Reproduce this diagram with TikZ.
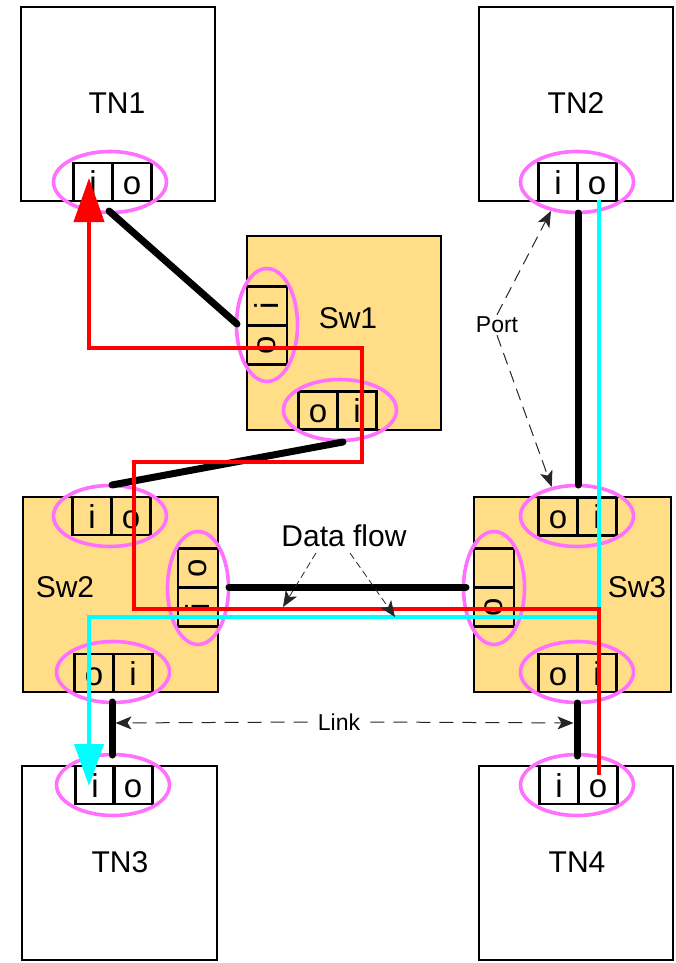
\documentclass[tikz,border=0pt]{standalone}
\usepackage{fontspec}
\setmainfont{Liberation Sans}
\usetikzlibrary{arrows.meta,shapes.geometric}
\definecolor{swfill}{HTML}{FFDE87}
\definecolor{ringc}{HTML}{FF70FF}
\definecolor{cyanc}{HTML}{00FFFF}
\definecolor{redc}{HTML}{FF0000}
\newcommand{\rotlet}[1]{\rotatebox{90}{#1}}
\begin{document}
\begin{tikzpicture}[x=1pt,y=-1pt,
  tnbox/.style={draw,line width=2.4pt,fill=white,minimum width=194pt,minimum height=194pt,inner sep=0pt,outer sep=0pt},
  swbox/.style={tnbox,fill=swfill},
  lbl/.style={font=\fontsize{30}{30}\selectfont,inner sep=0pt},
  cell/.style={draw,line width=2.4pt,minimum width=39pt,minimum height=38pt,inner sep=0pt,
    text height=24pt,text depth=0pt,font=\fontsize{33}{33}\selectfont},
  vcell/.style={draw,line width=2.4pt,minimum width=40pt,minimum height=39pt,inner sep=0pt,
    font=\fontsize{33}{33}\selectfont},
  ring/.style={draw=ringc,line width=3.6pt,ellipse,minimum width=113pt,minimum height=61pt,inner sep=0pt},
  vring/.style={draw=ringc,line width=3.6pt,ellipse,minimum width=61pt,minimum height=113pt,inner sep=0pt},
  link/.style={line width=7pt,line cap=round},
  flowred/.style={draw=redc,line width=4pt,-{Triangle[length=44pt,width=30pt]}},
  flowcyan/.style={draw=cyanc,line width=3.5pt,-{Triangle[length=42pt,width=29pt]}},
  note/.style={draw=black!85,line width=1pt,-{Stealth[length=16pt,width=13pt,inset=4pt]}},
  notelbl/.style={font=\fontsize{23}{23}\selectfont,inner sep=2pt}
]
\useasboundingbox (0,0) rectangle (675,963);

% boxes
\node[tnbox] (tn1) at (118,104) {};
\node[tnbox] (tn2) at (576,104) {};
\node[swbox] (sw1) at (344,333) {};
\node[swbox,minimum width=195pt,minimum height=195pt] (sw2) at (120.5,594.5) {};
\node[swbox,minimum width=197pt,minimum height=195pt] (sw3) at (572.5,594.5) {};
\node[tnbox,minimum width=195pt] (tn3) at (119.5,863) {};
\node[tnbox] (tn4) at (576,863) {};

% labels
\node[lbl] (tn1lbl) at (117,103) {TN1};
\node[lbl] (tn2lbl) at (576,103) {TN2};
\node[lbl] (sw1lbl) at (348,318) {Sw1};
\node[lbl] (sw2lbl) at (65,587) {Sw2};
\node[lbl] (sw3lbl) at (637,587) {Sw3};
\node[lbl] (tn3lbl) at (120,862) {TN3};
\node[lbl] (tn4lbl) at (577,862) {TN4};

% port cells
\node[cell] (tn1i) at (93,182) {i};
\node[cell] (tn1o) at (132,182) {o};
\node[cell] (tn2i) at (558,182) {i};
\node[cell] (tn2o) at (597,182) {o};
\node[vcell] (sw1li) at (267,306) {\rotlet{i}};
\node[vcell] (sw1lo) at (267,345) {\rotlet{o}};
\node[cell] (sw1bo) at (318,410.5) {o};
\node[cell] (sw1bi) at (357,410.5) {i};
\node[cell] (sw2ti) at (92,516) {i};
\node[cell] (sw2to) at (131,516) {o};
\node[vcell] (sw2ro) at (198,568) {\rotlet{o}};
\node[vcell] (sw2ri) at (198,607) {\rotlet{i}};
\node[cell] (sw2bo) at (94,673) {o};
\node[cell] (sw2bi) at (133,673) {i};
\node[cell] (sw3to) at (558,516.5) {o};
\node[cell] (sw3ti) at (597,516.5) {i};
\node[vcell] (sw3le) at (494,568) {};
\node[vcell] (sw3lo) at (494,607) {\rotlet{o}};
\node[cell] (sw3bo) at (558,673) {o};
\node[cell] (sw3bi) at (597,673) {i};
\node[cell] (tn3i) at (95,785) {i};
\node[cell] (tn3o) at (133,785) {o};
\node[cell] (tn4i) at (559,785) {i};
\node[cell] (tn4o) at (598,785) {o};

% port rings
\node[ring] (tn1ring) at (110,182) {};
\node[ring] (tn2ring) at (577,182) {};
\node[vring] (sw1lring) at (267,325) {};
\node[ring] (sw1bring) at (340,410) {};
\node[ring] (sw2tring) at (110,516) {};
\node[vring] (sw2rring) at (198,588) {};
\node[ring] (sw2bring) at (113,672) {};
\node[ring] (sw3tring) at (577,516) {};
\node[vring] (sw3lring) at (494,588) {};
\node[ring] (sw3bring) at (577,672) {};
\node[ring] (tn3ring) at (113,785) {};
\node[ring] (tn4ring) at (577,785) {};

% links
\coordinate (l1a) at (109,211); \coordinate (l1b) at (237,324);
\coordinate (l2a) at (112,485); \coordinate (l2b) at (343,442);
\coordinate (l3a) at (578,213); \coordinate (l3b) at (578,485);
\coordinate (l4a) at (229,587); \coordinate (l4b) at (466,587);
\coordinate (l5a) at (112,702); \coordinate (l5b) at (112,755);
\coordinate (l6a) at (577,703); \coordinate (l6b) at (577,756);
\draw[link] (l1a) -- (l1b);
\draw[link] (l2a) -- (l2b);
\draw[link] (l3a) -- (l3b);
\draw[link] (l4a) -- (l4b);
\draw[link] (l5a) -- (l5b);
\draw[link] (l6a) -- (l6b);

% data flows
\coordinate (c0) at (599,200);
\coordinate (c1) at (599,617);
\coordinate (c2) at (89,617);
\coordinate (c3) at (89,786);
\draw[flowcyan] (c0) -- (c1) -- (c2) -- (c3);

\coordinate (r0) at (599,775);
\coordinate (r1) at (599,609);
\coordinate (r2) at (134,609);
\coordinate (r3) at (134,462);
\coordinate (r4) at (362,462);
\coordinate (r5) at (362,348);
\coordinate (r6) at (89,348);
\coordinate (r7) at (89,178);
\draw[flowred] (r0) -- (r1) -- (r2) -- (r3) -- (r4) -- (r5) -- (r6) -- (r7);

% annotations
\node[notelbl] (portlbl) at (497,325) {Port};
\draw[note,dash pattern=on 12pt off 7pt] (portlbl.north) -- (tn2ring.228);
\draw[note,dash pattern=on 12pt off 7pt] (portlbl.south) -- (sw3tring.131);

\node[font=\fontsize{30}{30}\selectfont,inner sep=2pt] (dflbl) at (344,536) {Data flow};
\coordinate (d1s) at (316,553); \coordinate (d1t) at (283,607);
\coordinate (d2s) at (350,553); \coordinate (d2t) at (395,617);
\draw[note,line width=0.8pt,dash pattern=on 7pt off 4pt] (d1s) -- (d1t);
\draw[note,line width=0.8pt,dash pattern=on 7pt off 4pt] (d2s) -- (d2t);

\node[notelbl] (linklbl) at (339,722) {Link};
\coordinate (k1) at (112,723); \coordinate (k2) at (577,723);
\draw[note,dash pattern=on 14pt off 9pt,shorten >=3.5pt] (linklbl.west) ++(-8,0) -- (k1);
\draw[note,dash pattern=on 14pt off 9pt,shorten >=3.5pt] (linklbl.east) ++(8,0) -- (k2);
\end{tikzpicture}
\end{document}
